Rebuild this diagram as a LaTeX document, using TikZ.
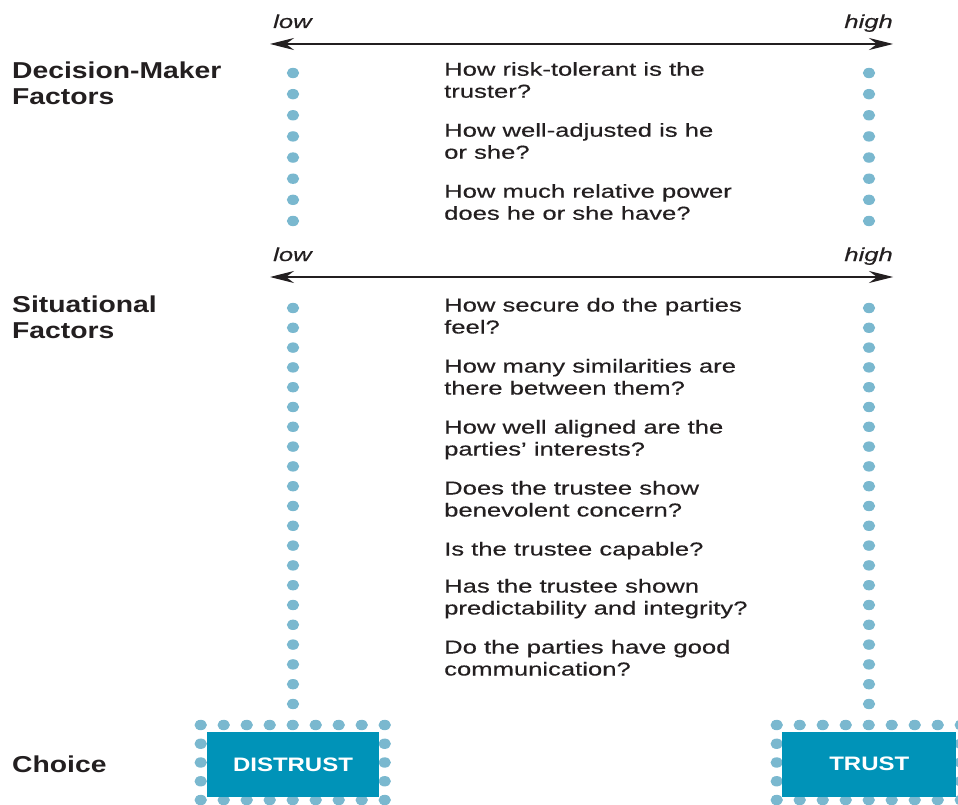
\documentclass[tikz,border=0pt]{standalone}
\usepackage{fontspec}
\setmainfont{Liberation Sans}
\newfontfamily\qfont[FakeStretch=1.37,FakeBold=0.4]{Liberation Sans}
\newfontfamily\hfont[FakeStretch=1.23]{Liberation Sans}
\usetikzlibrary{arrows.meta}

\definecolor{dotblue}{RGB}{122,184,207}
\definecolor{boxblue}{RGB}{0,147,184}
\definecolor{ink}{RGB}{35,31,32}

\tikzset{
  question/.style={anchor=base west, align=left, inner sep=0pt, text=ink,
    font=\qfont\fontsize{18.7}{22}\selectfont},
  heading/.style={anchor=base west, align=left, inner sep=0pt, text=ink,
    font=\hfont\bfseries\fontsize{23}{26}\selectfont},
  scalelabel/.style={inner sep=0pt, text=ink,
    font=\qfont\itshape\fontsize{18.7}{22}\selectfont},
  choicebox/.style={fill=boxblue, text=white, inner sep=0pt,
    minimum width=172pt, minimum height=65pt,
    font=\hfont\bfseries\fontsize{19.5}{22}\selectfont},
  scalearrow/.style={{Stealth[length=24pt,width=12pt,inset=8pt]}-{Stealth[length=24pt,width=12pt,inset=8pt]},
    line width=1.2pt, draw=ink},
  bead/.style={fill=dotblue},
}

\begin{document}
\begin{tikzpicture}[x=1pt,y=-1pt]
\useasboundingbox (0,0) rectangle (958,805);
\clip (0,0) rectangle (958,805);

% Define points
\coordinate (lowA) at (270,44);
\coordinate (highA) at (893,44);
\coordinate (lowB) at (270,277);
\coordinate (highB) at (893,277);

% Scale arrows
\draw[scalearrow] (lowA) -- (highA);
\draw[scalearrow] (lowB) -- (highB);

% Dotted columns
\foreach \k in {0,...,7} {
  \fill[bead] (293,{73+21.14*\k}) ellipse [x radius=6.2pt, y radius=5.2pt];
  \fill[bead] (869,{73+21.14*\k}) ellipse [x radius=6.2pt, y radius=5.2pt];
}
\foreach \k in {0,...,20} {
  \fill[bead] (293,{308+19.8*\k}) ellipse [x radius=6.2pt, y radius=5.2pt];
  \fill[bead] (869,{308+19.8*\k}) ellipse [x radius=6.2pt, y radius=5.2pt];
}

% Dotted frames round the choices
\foreach \x in {200.7,776.7} {
  \foreach \i in {0,...,8} {
    \fill[bead] ({\x+23*\i},725) ellipse [x radius=6.2pt, y radius=5.2pt];
    \fill[bead] ({\x+23*\i},800) ellipse [x radius=6.2pt, y radius=5.2pt];
  }
  \foreach \j in {1,...,3} {
    \fill[bead] (\x,{725+18.75*\j}) ellipse [x radius=6.2pt, y radius=5.2pt];
    \fill[bead] ({\x+184},{725+18.75*\j}) ellipse [x radius=6.2pt, y radius=5.2pt];
  }
}

% Choice boxes
\node[choicebox] (distrust) at (293,764.5) {DISTRUST};
\node[choicebox, minimum width=174pt] (trust) at (869.3,764) {TRUST};

% Labels
\node[scalelabel, anchor=base west] (lowTop) at (273,28) {low};
\node[scalelabel, anchor=base east] (highTop) at (893,28) {high};
\node[scalelabel, anchor=base west] (lowBot) at (273,261) {low};
\node[scalelabel, anchor=base east] (highBot) at (893,261) {high};

\node[heading] (decision) at (12,104.3) {Decision-Maker\\Factors};
\node[heading] (situation) at (12,338.7) {Situational\\Factors};
\node[heading] (choice) at (12,772) {Choice};

% Questions (base = last line)
\node[question] (qRisk) at (444,97.7) {How risk-tolerant is the\\truster?};
\node[question] (qAdjust) at (444,158.7) {How well-adjusted is he\\or she?};
\node[question] (qPower) at (444,219.7) {How much relative power\\does he or she have?};

\node[question] (qSecure) at (444,333.5) {How secure do the parties\\feel?};
\node[question] (qSimilar) at (444,394.5) {How many similarities are\\there between them?};
\node[question] (qAligned) at (444,455.5) {How well aligned are the\\parties’ interests?};
\node[question] (qConcern) at (444,516.5) {Does the trustee show\\benevolent concern?};
\node[question] (qCapable) at (444,555.5) {Is the trustee capable?};
\node[question] (qPredict) at (444,614.5) {Has the trustee shown\\predictability and integrity?};
\node[question] (qComm) at (444,675.5) {Do the parties have good\\communication?};

\end{tikzpicture}
\end{document}
